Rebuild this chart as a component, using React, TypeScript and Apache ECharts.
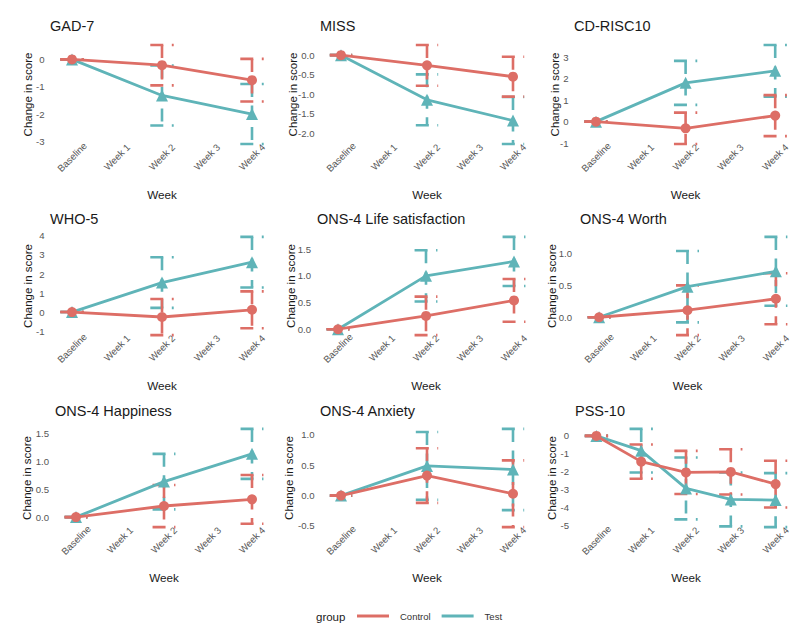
import React, { useEffect, useRef } from "react";
import * as echarts from "echarts";

// ---------- data ----------
const CATEGORIES = ["Baseline", "Week 1", "Week 2", "Week 3", "Week 4"];
const PANEL_TITLES = [
  "GAD-7", "MISS", "CD-RISC10",
  "WHO-5", "ONS-4 Life satisfaction", "ONS-4 Worth",
  "ONS-4 Happiness", "ONS-4 Anxiety", "PSS-10",
];

const gadControl = [0, null, -0.21, null, -0.76];
const gadControlErr = [0, null, 0.74, null, 0.78];
const gadTest = [0, null, -1.32, null, -2.0];
const gadTestErr = [0, null, 1.1, null, 1.1];
const gadTicks = [0, -1, -2, -3];

const missControl = [0, null, -0.26, null, -0.55];
const missControlErr = [0, null, 0.52, null, 0.51];
const missTest = [0, null, -1.14, null, -1.67];
const missTestErr = [0, null, 0.65, null, 0.6];
const missTicks = [0, -0.5, -1, -1.5, -2];

const cdControl = [0, null, -0.31, null, 0.28];
const cdControlErr = [0, null, 0.73, null, 0.95];
const cdTest = [0, null, 1.8, null, 2.36];
const cdTestErr = [0, null, 1.02, null, 1.2];
const cdTicks = [3, 2, 1, 0, -1];

const whoControl = [0, null, -0.26, null, 0.12];
const whoControlErr = [0, null, 0.95, null, 0.97];
const whoTest = [0, null, 1.55, null, 2.62];
const whoTestErr = [0, null, 1.33, null, 1.33];
const whoTicks = [4, 3, 2, 1, 0, -1];

const lifeControl = [0, null, 0.25, null, 0.54];
const lifeControlErr = [0, null, 0.36, null, 0.4];
const lifeTest = [0, null, 1.0, null, 1.27];
const lifeTestErr = [0, null, 0.48, null, 0.46];
const lifeTicks = [1.5, 1, 0.5, 0];

const worthControl = [0, null, 0.11, null, 0.29];
const worthControlErr = [0, null, 0.39, null, 0.4];
const worthTest = [0, null, 0.48, null, 0.72];
const worthTestErr = [0, null, 0.56, null, 0.54];
const worthTicks = [1, 0.5, 0];

const happyControl = [0, null, 0.2, null, 0.32];
const happyControlErr = [0, null, 0.38, null, 0.44];
const happyTest = [0, null, 0.64, null, 1.14];
const happyTestErr = [0, null, 0.5, null, 0.45];
const happyTicks = [1.5, 1, 0.5, 0];

const anxControl = [0, null, 0.33, null, 0.03];
const anxControlErr = [0, null, 0.45, null, 0.55];
const anxTest = [0, null, 0.49, null, 0.43];
const anxTestErr = [0, null, 0.56, null, 0.67];
const anxTicks = [1, 0.5, 0, -0.5];

const pssControl = [0, -1.43, -2.03, -2.0, -2.68];
const pssControlErr = [0, 0.95, 1.2, 1.26, 1.3];
const pssTest = [0, -0.82, -2.92, -3.53, -3.57];
const pssTestErr = [0, 1.21, 1.72, 1.5, 1.5];
const pssTicks = [0, -1, -2, -3, -4, -5];

const PANELS = [
  { control: gadControl, controlErr: gadControlErr, test: gadTest, testErr: gadTestErr, ticks: gadTicks, decimals: 0 },
  { control: missControl, controlErr: missControlErr, test: missTest, testErr: missTestErr, ticks: missTicks, decimals: 1 },
  { control: cdControl, controlErr: cdControlErr, test: cdTest, testErr: cdTestErr, ticks: cdTicks, decimals: 0 },
  { control: whoControl, controlErr: whoControlErr, test: whoTest, testErr: whoTestErr, ticks: whoTicks, decimals: 0 },
  { control: lifeControl, controlErr: lifeControlErr, test: lifeTest, testErr: lifeTestErr, ticks: lifeTicks, decimals: 1 },
  { control: worthControl, controlErr: worthControlErr, test: worthTest, testErr: worthTestErr, ticks: worthTicks, decimals: 1 },
  { control: happyControl, controlErr: happyControlErr, test: happyTest, testErr: happyTestErr, ticks: happyTicks, decimals: 1 },
  { control: anxControl, controlErr: anxControlErr, test: anxTest, testErr: anxTestErr, ticks: anxTicks, decimals: 1 },
  { control: pssControl, controlErr: pssControlErr, test: pssTest, testErr: pssTestErr, ticks: pssTicks, decimals: 0 },
];

// ---------- layout / style ----------
const LAYOUT = [
  { left: 49.5, top: 40, width: 225, height: 109, titleX: 50, titleY: 27, yNameGap: 16 },
  { left: 319.5, top: 40, width: 215, height: 109, titleX: 320, titleY: 27, yNameGap: 21 },
  { left: 573.6, top: 40, width: 224, height: 109, titleX: 574, titleY: 27, yNameGap: 13 },
  { left: 49.5, top: 232, width: 225, height: 108, titleX: 50, titleY: 220, yNameGap: 16 },
  { left: 316, top: 232, width: 220, height: 108, titleX: 317, titleY: 220, yNameGap: 19.5 },
  { left: 577, top: 232, width: 221, height: 108, titleX: 580, titleY: 220, yNameGap: 19 },
  { left: 54, top: 424, width: 220, height: 108, titleX: 55, titleY: 412, yNameGap: 21 },
  { left: 319.5, top: 424, width: 215, height: 108, titleX: 320, titleY: 412, yNameGap: 24.5 },
  { left: 574, top: 424, width: 224, height: 108, titleX: 575, titleY: 412, yNameGap: 16 },
];

const RED = "#DD6E66";
const TEAL = "#5FB4B8";
const FONT = "Liberation Sans, Arial, Helvetica, sans-serif";

function errData(mean: (number | null)[], err: (number | null)[]) {
  const out: number[][] = [];
  mean.forEach((m, i) => {
    const e = err[i];
    if (m != null && e != null) out.push([i, m - e, m + e]);
  });
  return out;
}

function makeErrSeries(idx: number, data: number[][], color: string, name: string) {
  return {
    type: "custom",
    name,
    xAxisIndex: idx,
    yAxisIndex: idx,
    z: 1,
    silent: true,
    encode: { x: 0, y: [1, 2] },
    data,
    renderItem: (params: any, api: any) => {
      const x = api.value(0);
      const lo = api.value(1);
      const hi = api.value(2);
      const pHi = api.coord([x, hi]);
      const pLo = api.coord([x, lo]);
      const half = api.size([1, 0])[0] * 0.26;
      const style = { stroke: color, lineWidth: 2.6, lineDash: [13, 8.5], fill: null };
      return {
        type: "group",
        children: [
          { type: "line", shape: { x1: pHi[0] - half, y1: pHi[1], x2: pHi[0] + half, y2: pHi[1] }, style },
          { type: "line", shape: { x1: pHi[0], y1: pHi[1], x2: pLo[0], y2: pLo[1] }, style },
          { type: "line", shape: { x1: pLo[0] - half, y1: pLo[1], x2: pLo[0] + half, y2: pLo[1] }, style },
        ],
      };
    },
  };
}

function buildOption() {
  const grids: any[] = [];
  const xAxes: any[] = [];
  const yAxes: any[] = [];
  const titles: any[] = [];
  const series: any[] = [];

  PANELS.forEach((p, i) => {
    const L = LAYOUT[i];
    const cErr = errData(p.control, p.controlErr);
    const tErr = errData(p.test, p.testErr);
    const all = cErr.concat(tErr);
    const lo = Math.min(...all.map((d) => d[1]));
    const hi = Math.max(...all.map((d) => d[2]));
    const pad = (hi - lo) * 0.05;

    grids.push({ left: L.left, top: L.top, width: L.width, height: L.height, containLabel: false, outerBoundsMode: "none" });
    titles.push({
      text: PANEL_TITLES[i],
      left: L.titleX,
      top: L.titleY - 8.5,
      padding: 0,
      textStyle: { fontFamily: FONT, fontSize: 14.5, fontWeight: "normal", color: "#1a1a1a" },
    });
    xAxes.push({
      type: "category",
      gridIndex: i,
      data: CATEGORIES,
      boundaryGap: true,
      name: "Week",
      nameLocation: "middle",
      nameGap: 39.5,
      nameMoveOverlap: false,
      nameTextStyle: { fontFamily: FONT, fontSize: 11.7, color: "#1a1a1a" },
      axisLine: { show: false, onZero: false },
      axisTick: { show: false },
      splitLine: { show: false },
      axisLabel: {
        interval: 0,
        rotate: 45,
        align: "center",
        verticalAlign: "middle",
        margin: 8,
        hideOverlap: false,
        fontFamily: FONT,
        fontSize: 9.6,
        color: "#555",
      },
    });
    yAxes.push({
      type: "value",
      gridIndex: i,
      min: lo - pad,
      max: hi + pad,
      name: "Change in score",
      nameLocation: "middle",
      nameGap: L.yNameGap,
      nameMoveOverlap: false,
      nameTextStyle: { fontFamily: FONT, fontSize: 11.5, color: "#1a1a1a" },
      axisLine: { show: false },
      axisTick: { show: false },
      splitLine: { show: false },
      axisLabel: {
        customValues: p.ticks,
        margin: 5,
        fontFamily: FONT,
        fontSize: 9.6,
        color: "#555",
        formatter: (v: number) => (p.decimals ? v.toFixed(p.decimals) : String(Math.round(v))),
      },
    });

    series.push(makeErrSeries(i, tErr, TEAL, "Test err"));
    series.push(makeErrSeries(i, cErr, RED, "Control err"));
    series.push({
      type: "line",
      name: "Test",
      xAxisIndex: i,
      yAxisIndex: i,
      data: p.test,
      connectNulls: true,
      symbol: "triangle",
      symbolSize: 12,
      z: 2,
      silent: true,
      color: TEAL,
      itemStyle: { color: TEAL },
      lineStyle: { color: TEAL, width: 2.8 },
    });
    series.push({
      type: "line",
      name: "Control",
      xAxisIndex: i,
      yAxisIndex: i,
      data: p.control,
      connectNulls: true,
      symbol: "circle",
      symbolSize: 10,
      z: 3,
      silent: true,
      color: RED,
      itemStyle: { color: RED },
      lineStyle: { color: RED, width: 2.8 },
    });
  });

  return {
    animation: false,
    backgroundColor: "#ffffff",
    title: titles,
    grid: grids,
    xAxis: xAxes,
    yAxis: yAxes,
    series,
    legend: {
      data: [
        { name: "Control", icon: "rect" },
        { name: "Test", icon: "rect" },
      ],
      left: 357,
      top: 611,
      padding: 0,
      itemWidth: 32,
      itemHeight: 3,
      itemGap: 11,
      selectedMode: false,
      textStyle: { fontFamily: FONT, fontSize: 9.5, color: "#333", padding: [0, 0, 0, 6] },
    },
    graphic: [
      {
        type: "text",
        left: 316,
        top: 611,
        style: { text: "group", fontFamily: FONT, fontSize: 11.5, fill: "#1a1a1a" },
      },
    ],
  };
}

export default function App() {
  const ref = useRef<HTMLDivElement>(null);
  useEffect(() => {
    if (!ref.current) return;
    const chart = echarts.init(ref.current, null, { renderer: "svg" });
    chart.setOption(buildOption() as any);
    return () => chart.dispose();
  }, []);
  return (
    <div
      ref={ref}
      style={{ position: "absolute", left: 0, top: 0, width: 800, height: 627, background: "#fff" }}
    />
  );
}
